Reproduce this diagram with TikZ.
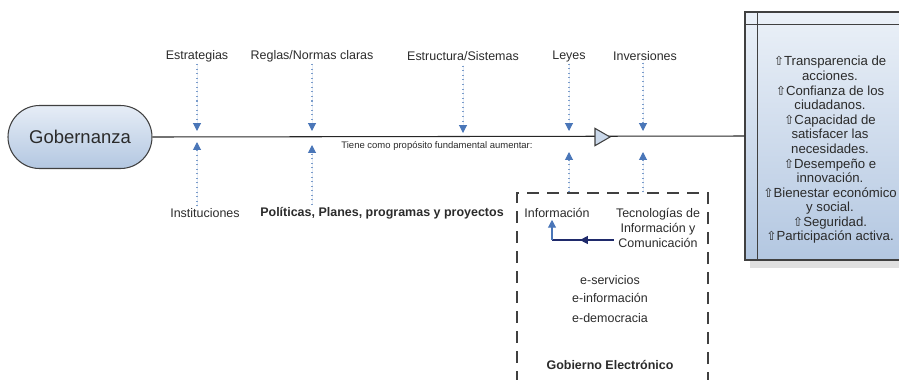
\documentclass[tikz,border=0pt]{standalone}
\usepackage{fontspec}
\setmainfont{Liberation Sans}
\newfontfamily\symfont{DejaVu Sans}
\usetikzlibrary{arrows.meta,shapes.geometric,calc,positioning}
\definecolor{arrblue}{HTML}{4A76B8}
\definecolor{dotblue}{HTML}{7A9CCB}
\definecolor{ticnavy}{HTML}{1F2A6B}
\definecolor{lightfill}{HTML}{E6EDF6}
\definecolor{darkfill}{HTML}{B3C7E1}
\definecolor{txtgray}{HTML}{2B2B2B}
\newcommand{\upmark}{{\symfont\fontsize{7}{7}\selectfont\char"21E7}}
\tikzset{
  >={Triangle[width=4.5pt,length=4.5pt]}
}

\begin{document}
\begin{tikzpicture}[
    lbl/.style={font=\fontsize{7.1}{8.5}\selectfont,text=txtgray,align=center,inner sep=1pt},
    dotarrow/.style={->,draw=dotblue,fill=arrblue,dotted,line width=0.6pt,>={Triangle[width=4.5pt,length=4.5pt,fill=arrblue,color=arrblue]}},
    pill/.style={draw=black!75,line width=0.6pt,rounded corners=0.63cm,minimum width=2.88cm,minimum height=1.26cm,top color=lightfill,bottom color=darkfill},
    goalbox/.style={draw=black!75,line width=0.6pt,minimum width=3.7cm,minimum height=4.96cm,top color=lightfill!80,bottom color=darkfill},
    egov/.style={draw=black!75,line width=0.6pt,dash pattern=on 0.24cm off 0.16cm,minimum width=3.82cm,minimum height=4.4cm}]
        \clip (0,0) rectangle (17.98,-7.58);

        \node (G) at (1.6,-2.74) [pill] {\fontsize{10.5}{12}\selectfont\color{txtgray}Gobernanza};

        \fill[black!12] (15.0,-5.2) rectangle (18.7,-5.36);
        \node (R) at (16.75,-2.72) [goalbox] {};
        \draw[black!75,line width=0.6pt] ($(R.north west)+(0,-0.26)$) -- ($(R.north east)+(0,-0.26)$);
        \draw[black!75,line width=0.6pt] ($(R.north west)+(0.26,0)$) -- ($(R.south west)+(0.26,0)$);
        \node (L) at (16.6,-3.0) [font=\fontsize{7.5}{8.3}\selectfont,text=txtgray,align=center,inner sep=0pt] {\upmark Transparencia de\\acciones.\\\upmark Confianza de los\\ciudadanos.\\\upmark Capacidad de\\satisfacer las\\necesidades.\\\upmark Desempeño e\\innovación.\\\upmark Bienestar económico\\y social.\\\upmark Seguridad.\\\upmark Participación activa.};

        \draw[black!85,line width=0.6pt] (G.east) -- (R.west);
        \node (M) at (12.0,-2.74) [isosceles triangle,isosceles triangle apex angle=60,draw=black!75,fill=darkfill!70,line width=0.6pt,inner sep=0pt,minimum height=0.3cm,minimum width=0.34cm] {};
        \node (TF) at (8.74,-2.92) [font=\fontsize{5.4}{6}\selectfont,text=txtgray] {Tiene como propósito fundamental aumentar:};

        \node (T1) at (3.94,-1.12) [lbl] {Estrategias};
        \node (T2) at (6.24,-1.12) [lbl] {Reglas/Normas claras};
        \node (T3) at (9.26,-1.12) [lbl] {Estructura/Sistemas};
        \node (T4) at (11.38,-1.12) [lbl] {Leyes};
        \node (T5) at (12.9,-1.12) [lbl] {Inversiones};
        \coordinate (t1) at (3.94,-2.62);
        \coordinate (t2) at (6.24,-2.62);
        \coordinate (t3) at (9.26,-2.66);
        \coordinate (t4) at (11.38,-2.62);
        \coordinate (t5) at (12.86,-2.62);
        \draw[dotarrow] (T1) -- (t1);
        \draw[dotarrow] (T2) -- (t2);
        \draw[dotarrow] (T3.south) ++(0,-0.06) -- (t3);
        \draw[dotarrow] (T4) -- (t4);
        \draw[dotarrow] (T5.south -| t5) -- (t5);

        \node (B1) at (4.1,-4.26) [lbl] {Instituciones};
        \node (B2) at (7.64,-4.26) [lbl] {\bfseries Políticas, Planes, programas y proyectos};
        \coordinate (b1) at (3.94,-2.84);
        \coordinate (b2) at (6.24,-2.9);
        \draw[dotarrow] (B1.north -| b1) -- (b1);
        \draw[dotarrow] (B2.north -| b2) -- (b2);

        \node (E) at (12.25,-6.06) [egov] {};
        \coordinate (b4) at (11.38,-3.04);
        \coordinate (b5) at (12.86,-3.04);
        \draw[dotarrow] (E.north -| b4) -- (b4);
        \draw[dotarrow] (E.north -| b5) -- (b5);

        \node (I) at (11.14,-4.26) [lbl] {Información};
        \node (TIC) at (13.16,-4.56) [lbl] {Tecnologías de\\Información y\\Comunicación};
        \coordinate (c1) at (11.04,-4.8);
        \draw[ticnavy,line width=0.7pt] (TIC.west |- c1) -- (c1);
        \draw[ticnavy,line width=0.7pt,-{Triangle[width=4.5pt,length=4.5pt]}] (TIC.west |- c1) -- ($(TIC.west |- c1)!0.55!(c1)$);
        \draw[->,arrblue,line width=0.7pt,>={Triangle[width=4.5pt,length=4.5pt]}] (c1) -- (c1 |- I.south);

        \node (S1) at (12.2,-5.6) [lbl] {e-servicios};
        \node (S2) at (12.2,-5.96) [lbl] {e-información};
        \node (S3) at (12.2,-6.36) [lbl] {e-democracia};
        \node (GE) at (12.2,-7.3) [lbl] {\bfseries Gobierno Electrónico};
    \end{tikzpicture}
\end{document}
